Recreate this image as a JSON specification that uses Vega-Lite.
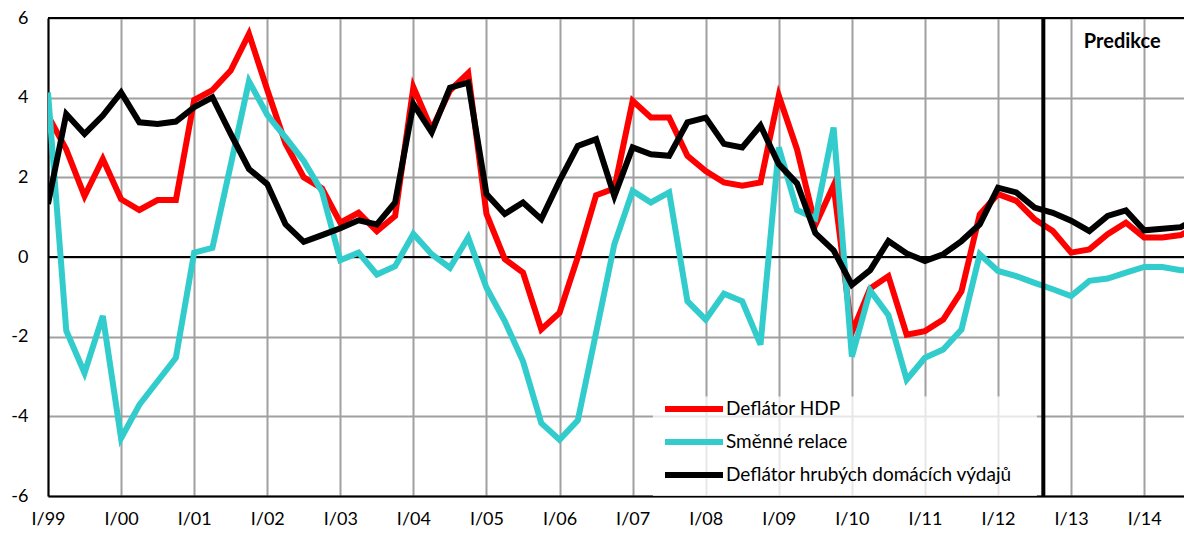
{
  "$schema": "https://vega.github.io/schema/vega-lite/v6.json",
  "width": 1136,
  "height": 478,
  "autosize": {"type": "none"},
  "padding": {"left": 48, "top": 18, "right": 0, "bottom": 39},
  "background": "white",
  "config": {
    "view": {"stroke": null},
    "font": "Lato",
    "axis": {"labelFont": "Lato", "labelFontSize": 18, "labelColor": "black", "gridColor": "#a0a0a0", "gridWidth": 2, "gridOpacity": 1, "domainColor": "black", "domainWidth": 2, "ticks": false, "tickSize": 0, "title": null}
  },
  "datasets": {
    "series": [
      {"q": 0, "Deflátor HDP": 3.55, "Směnné relace": 4.13, "Deflátor hrubých domácích výdajů": 1.33},
      {"q": 1, "Deflátor HDP": 2.7, "Směnné relace": -1.85, "Deflátor hrubých domácích výdajů": 3.59},
      {"q": 2, "Deflátor HDP": 1.53, "Směnné relace": -2.91, "Deflátor hrubých domácích výdajů": 3.09},
      {"q": 3, "Deflátor HDP": 2.46, "Směnné relace": -1.48, "Deflátor hrubých domácích výdajů": 3.55},
      {"q": 4, "Deflátor HDP": 1.45, "Směnné relace": -4.55, "Deflátor hrubých domácích výdajů": 4.13},
      {"q": 5, "Deflátor HDP": 1.18, "Směnné relace": -3.71, "Deflátor hrubých domácích výdajů": 3.38},
      {"q": 6, "Deflátor HDP": 1.43, "Směnné relace": -3.12, "Deflátor hrubých domácích výdajů": 3.34},
      {"q": 7, "Deflátor HDP": 1.43, "Směnné relace": -2.53, "Deflátor hrubých domácích výdajů": 3.4},
      {"q": 8, "Deflátor HDP": 3.94, "Směnné relace": 0.11, "Deflátor hrubých domácích výdajů": 3.76},
      {"q": 9, "Deflátor HDP": 4.19, "Směnné relace": 0.23, "Deflátor hrubých domácích výdajů": 4.01},
      {"q": 10, "Deflátor HDP": 4.68, "Směnné relace": 2.31, "Deflátor hrubých domácích výdajů": 3.09},
      {"q": 11, "Deflátor HDP": 5.6, "Směnné relace": 4.41, "Deflátor hrubých domácích výdajů": 2.21},
      {"q": 12, "Deflátor HDP": 4.2, "Směnné relace": 3.57, "Deflátor hrubých domácích výdajů": 1.83},
      {"q": 13, "Deflátor HDP": 2.85, "Směnné relace": 3.0, "Deflátor hrubých domácích výdajů": 0.82},
      {"q": 14, "Deflátor HDP": 2.0, "Směnné relace": 2.41, "Deflátor hrubých domácích výdajů": 0.38},
      {"q": 15, "Deflátor HDP": 1.72, "Směnné relace": 1.64, "Deflátor hrubých domácích výdajů": 0.55},
      {"q": 16, "Deflátor HDP": 0.86, "Směnné relace": -0.08, "Deflátor hrubých domácích výdajů": 0.72},
      {"q": 17, "Deflátor HDP": 1.11, "Směnné relace": 0.11, "Deflátor hrubých domácích výdajů": 0.92},
      {"q": 18, "Deflátor HDP": 0.65, "Směnné relace": -0.44, "Deflátor hrubých domácích výdajů": 0.82},
      {"q": 19, "Deflátor HDP": 1.03, "Směnné relace": -0.23, "Deflátor hrubých domácích výdajů": 1.37},
      {"q": 20, "Deflátor HDP": 4.26, "Směnné relace": 0.58, "Deflátor hrubých domácích výdajů": 3.84},
      {"q": 21, "Deflátor HDP": 3.2, "Směnné relace": 0.07, "Deflátor hrubých domácích výdajů": 3.13},
      {"q": 22, "Deflátor HDP": 4.18, "Směnné relace": -0.27, "Deflátor hrubých domácích výdajů": 4.25},
      {"q": 23, "Deflátor HDP": 4.62, "Směnné relace": 0.49, "Deflátor hrubých domácích výdajů": 4.38},
      {"q": 24, "Deflátor HDP": 1.08, "Směnné relace": -0.77, "Deflátor hrubých domácích výdajů": 1.58},
      {"q": 25, "Deflátor HDP": -0.05, "Směnné relace": -1.61, "Deflátor hrubých domácích výdajů": 1.08},
      {"q": 26, "Deflátor HDP": -0.39, "Směnné relace": -2.62, "Deflátor hrubých domácích výdajů": 1.37},
      {"q": 27, "Deflátor HDP": -1.82, "Směnné relace": -4.17, "Deflátor hrubých domácích výdajů": 0.95},
      {"q": 28, "Deflátor HDP": -1.4, "Směnné relace": -4.59, "Deflátor hrubých domácích výdajů": 1.91},
      {"q": 29, "Deflátor HDP": 0.0, "Směnné relace": -4.1, "Deflátor hrubých domácích výdajů": 2.79},
      {"q": 30, "Deflátor HDP": 1.55, "Směnné relace": -1.9, "Deflátor hrubých domácích výdajů": 2.96},
      {"q": 31, "Deflátor HDP": 1.72, "Směnné relace": 0.32, "Deflátor hrubých domácích výdajů": 1.53},
      {"q": 32, "Deflátor HDP": 3.92, "Směnné relace": 1.66, "Deflátor hrubých domácích výdajů": 2.75},
      {"q": 33, "Deflátor HDP": 3.5, "Směnné relace": 1.37, "Deflátor hrubých domácích výdajů": 2.58},
      {"q": 34, "Deflátor HDP": 3.5, "Směnné relace": 1.62, "Deflátor hrubých domácích výdajů": 2.54},
      {"q": 35, "Deflátor HDP": 2.54, "Směnné relace": -1.11, "Deflátor hrubých domácích výdajů": 3.38},
      {"q": 36, "Deflátor HDP": 2.16, "Směnné relace": -1.57, "Deflátor hrubých domácích výdajů": 3.5},
      {"q": 37, "Deflátor HDP": 1.87, "Směnné relace": -0.92, "Deflátor hrubých domácích výdajů": 2.84},
      {"q": 38, "Deflátor HDP": 1.79, "Směnné relace": -1.11, "Deflátor hrubých domácích výdajů": 2.75},
      {"q": 39, "Deflátor HDP": 1.87, "Směnné relace": -2.2, "Deflátor hrubých domácích výdajů": 3.3},
      {"q": 40, "Deflátor HDP": 4.05, "Směnné relace": 2.75, "Deflátor hrubých domácích výdajů": 2.33},
      {"q": 41, "Deflátor HDP": 2.7, "Směnné relace": 1.18, "Deflátor hrubých domácích výdajů": 1.85},
      {"q": 42, "Deflátor HDP": 0.8, "Směnné relace": 0.97, "Deflátor hrubých domácích výdajů": 0.6},
      {"q": 43, "Deflátor HDP": 1.8, "Směnné relace": 3.25, "Deflátor hrubých domácích výdajů": 0.17},
      {"q": 44, "Deflátor HDP": -1.9, "Směnné relace": -2.5, "Deflátor hrubých domácích výdajů": -0.7},
      {"q": 45, "Deflátor HDP": -0.79, "Směnné relace": -0.84, "Deflátor hrubých domácích výdajů": -0.33},
      {"q": 46, "Deflátor HDP": -0.48, "Směnné relace": -1.46, "Deflátor hrubých domácích výdajů": 0.4},
      {"q": 47, "Deflátor HDP": -1.95, "Směnné relace": -3.08, "Deflátor hrubých domácích výdajů": 0.09},
      {"q": 48, "Deflátor HDP": -1.86, "Směnné relace": -2.53, "Deflátor hrubých domácích výdajů": -0.1},
      {"q": 49, "Deflátor HDP": -1.57, "Směnné relace": -2.32, "Deflátor hrubých domácích výdajů": 0.07},
      {"q": 50, "Deflátor HDP": -0.86, "Směnné relace": -1.82, "Deflátor hrubých domácích výdajů": 0.4},
      {"q": 51, "Deflátor HDP": 1.07, "Směnné relace": 0.07, "Deflátor hrubých domácích výdajů": 0.82},
      {"q": 52, "Deflátor HDP": 1.58, "Směnné relace": -0.35, "Deflátor hrubých domácích výdajů": 1.74},
      {"q": 53, "Deflátor HDP": 1.41, "Směnné relace": -0.48, "Deflátor hrubých domácích výdajů": 1.62},
      {"q": 54, "Deflátor HDP": 0.95, "Směnné relace": -0.65, "Deflátor hrubých domácích výdajů": 1.24},
      {"q": 55, "Deflátor HDP": 0.65, "Směnné relace": -0.81, "Deflátor hrubých domácích výdajů": 1.11},
      {"q": 56, "Deflátor HDP": 0.11, "Směnné relace": -0.98, "Deflátor hrubých domácích výdajů": 0.91},
      {"q": 57, "Deflátor HDP": 0.19, "Směnné relace": -0.6, "Deflátor hrubých domácích výdajů": 0.65},
      {"q": 58, "Deflátor HDP": 0.57, "Směnné relace": -0.54, "Deflátor hrubých domácích výdajů": 1.03},
      {"q": 59, "Deflátor HDP": 0.86, "Směnné relace": -0.39, "Deflátor hrubých domácích výdajů": 1.17},
      {"q": 60, "Deflátor HDP": 0.49, "Směnné relace": -0.25, "Deflátor hrubých domácích výdajů": 0.67},
      {"q": 61, "Deflátor HDP": 0.49, "Směnné relace": -0.25, "Deflátor hrubých domácích výdajů": 0.71},
      {"q": 62, "Deflátor HDP": 0.55, "Směnné relace": -0.33, "Deflátor hrubých domácích výdajů": 0.75},
      {"q": 63, "Deflátor HDP": 0.8, "Směnné relace": -0.35, "Deflátor hrubých domácích výdajů": 1.0}
    ]
  },
  "layer": [
    {
      "data": {"values": [{}]},
      "mark": {"type": "rect", "color": "white", "opacity": 0.75},
      "encoding": {
        "x": {"datum": 33.11, "type": "quantitative"},
        "x2": {"datum": 54.13},
        "y": {"datum": -3.5, "type": "quantitative"},
        "y2": {"datum": -6}
      }
    },
    {
      "data": {"values": [{}]},
      "mark": {"type": "rule", "color": "black", "strokeWidth": 2},
      "encoding": {
        "y": {"datum": 0, "type": "quantitative", "scale": {"domain": [-6, 6], "nice": false, "zero": false},
          "axis": {"values": [-6, -4, -2, 0, 2, 4, 6], "labelPadding": 20, "grid": true, "labelExpr": "datum.value + ''"}}
      }
    },
    {
      "data": {"values": [{}]},
      "mark": {"type": "rule", "color": "black", "strokeWidth": 2},
      "encoding": {"y": {"datum": 6, "type": "quantitative"}}
    },
    {
      "data": {"name": "series"},
      "transform": [
        {"fold": ["Deflátor HDP", "Směnné relace", "Deflátor hrubých domácích výdajů"], "as": ["serie", "hodnota"]}
      ],
      "mark": {"type": "line", "strokeWidth": 6, "clip": true},
      "encoding": {
        "x": {"field": "q", "type": "quantitative",
          "scale": {"domain": [0, 62.18], "nice": false, "zero": false},
          "axis": {"values": [0, 4, 8, 12, 16, 20, 24, 28, 32, 36, 40, 44, 48, 52, 56, 60],
            "labelExpr": "'I/' + substring(toString(1999 + datum.value / 4), 2, 4)",
            "labelPadding": 14, "grid": true, "labelFlush": false, "labelOverlap": false}},
        "y": {"field": "hodnota", "type": "quantitative"},
        "color": {"field": "serie", "type": "nominal",
          "scale": {"domain": ["Deflátor HDP", "Směnné relace", "Deflátor hrubých domácích výdajů"], "range": ["#ff0000", "#33cccc", "#000000"]},
          "legend": {"title": null, "orient": "none", "legendX": 614, "legendY": 380,
            "symbolType": "stroke", "symbolStrokeWidth": 6, "symbolSize": 3364,
            "labelFont": "Lato", "labelFontSize": 19, "labelColor": "black", "labelLimit": 400, "labelOffset": 0,
            "padding": 0, "rowPadding": 11, "clipHeight": 22}
        }
      }
    },
    {
      "data": {"values": [{}]},
      "mark": {"type": "rule", "color": "black", "strokeWidth": 4},
      "encoding": {"x": {"datum": 54.48, "type": "quantitative"}}
    },
    {
      "data": {"values": [{}]},
      "mark": {"type": "text", "text": "Predikce", "font": "Lato", "fontWeight": "bold", "fontSize": 20, "align": "center", "baseline": "middle", "color": "black"},
      "encoding": {"x": {"datum": 58.8, "type": "quantitative"}, "y": {"datum": 5.4, "type": "quantitative"}}
    }
  ]
}
